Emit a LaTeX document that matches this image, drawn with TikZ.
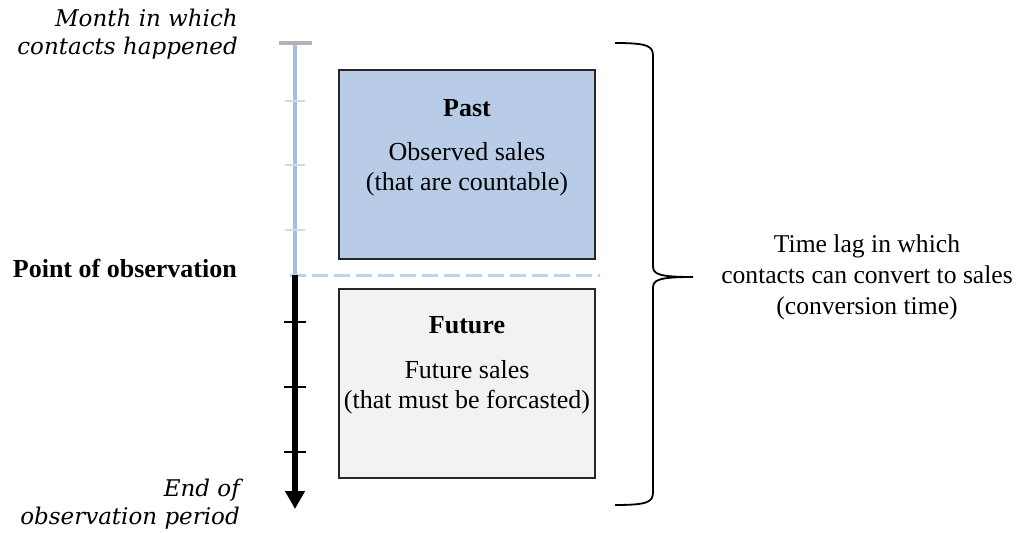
\documentclass[tikz,border=0pt]{standalone}
\usepackage{fontspec}
\setmainfont{Liberation Serif}
\newfontfamily\labelfont{DejaVu Serif}
\usetikzlibrary{positioning,arrows.meta,calc}
\definecolor{pastblue}{RGB}{184,204,232}
\definecolor{fadeblue}{RGB}{160,190,232}
\definecolor{futuregray}{RGB}{242,242,242}

\begin{document}
\begin{tikzpicture}[x=1pt, y=-1pt, >={Triangle[length=18pt,width=19pt]}, font=\fontsize{26}{30}\selectfont]
		\tikzset{period/.style={draw=black!85, line width=2pt, minimum width=256pt, minimum height=189pt, inner sep=0pt}}
		\tikzset{boxtext/.style={align=center, inner sep=0pt, anchor=base}}
		\tikzset{sidetext/.style={align=right, inner sep=0pt, anchor=base east, font=\fontsize{23}{28}\selectfont\labelfont\itshape}}
		\tikzset{tick/.style={line width=2.5pt}}
		\tikzset{fadetick/.style={line width=1.2pt, draw=black!15}}
		\useasboundingbox (0,0) rectangle (1026,533);
		\coordinate (top) at (295,43);
		\coordinate (obs) at (295,275);
		\coordinate (end) at (295,509);
		\draw[fadeblue, line width=3.5pt] (top) -- (obs);
		\draw[line width=3.5pt, draw=black!30] ($(top)+(-16,0)$) -- ($(top)+(17,0)$);
		\foreach \y in {101,165,230} \draw[fadetick] (285,\y) -- (305,\y);
		\draw[fadeblue!70, line width=3pt, dash pattern=on 16pt off 6pt] (290,275) -- (600,275);
		\draw[->, line width=5.5pt] (obs) -- (end);
		\foreach \y in {322,387,452} \draw[tick] (284,\y) -- (306,\y);
		\node[period, fill=pastblue] (past) at (467,164.5) {};
		\node[period, fill=futuregray] (future) at (467,383.5) {};
		\node[boxtext] (pasttitle) at (467,116) {\textbf{Past}};
		\node[boxtext] (pasttext) at (467,190) {Observed sales\\(that are countable)};
		\node[boxtext] (futuretitle) at (467,333) {\textbf{Future}};
		\node[boxtext] (futuretext) at (467,408) {Future sales\\(that must be forcasted)};
		\node[sidetext] (month) at (238,54) {Month in which\\contacts happened};
		\node[anchor=base east, inner sep=0pt, font=\fontsize{26}{30}\selectfont\bfseries] (point) at (237,277) {Point of observation};
		\node[sidetext] (endlabel) at (240,524) {End of\\observation period};
		\coordinate (bracetop) at (615,43);
		\coordinate (bracebot) at (615,505);
		\coordinate (bracetip) at (693,277);
		\draw[line width=1.8pt] (bracetop) .. controls (648,43) and (653,46) .. (653,56) -- (653,266)
			.. controls (653,274) and (658,277) .. (bracetip)
			.. controls (658,277) and (653,280) .. (653,288) -- (653,492)
			.. controls (653,502) and (648,505) .. (bracebot);
		\node[boxtext, font=\fontsize{25.6}{31}\selectfont] (lag) at (867,314) {Time lag in which\\contacts can convert to sales\\(conversion time)};
	\end{tikzpicture}
\end{document}
